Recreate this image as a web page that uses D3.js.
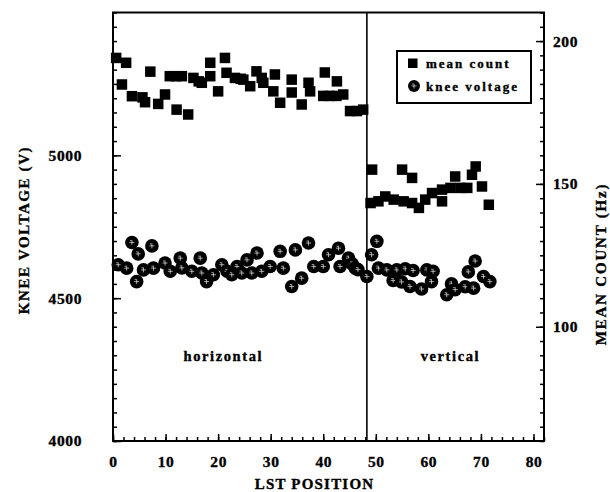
<!DOCTYPE html>
<html><head><meta charset="utf-8">
<script src="https://cdn.jsdelivr.net/npm/d3@7"></script>
<style>
body{margin:0;background:#fff;}
text{font-family:"Liberation Serif","Times New Roman",serif;font-weight:bold;fill:#000;stroke:#000;stroke-width:0.35px;}
</style></head>
<body><svg id="chart" width="610" height="492"></svg>
<script>
// mean count (Hz), right axis: [LST position, value]
const countHorizontal = [
 [0.6,194.1],[1.7,184.8],[2.5,192.4],[3.6,180.7],[5.6,180.3],[6.1,178.6],[7.1,189.3],[8.6,178.0],
 [9.9,181.3],[10.8,187.7],[12.0,187.7],[12.1,176.0],[13.1,187.7],[14.3,174.3],[15.3,187.1],[16.3,185.9],
 [16.9,185.4],[18.5,187.7],[18.5,192.4],[20.0,182.4],[21.3,194.1],[21.6,188.9],[23.2,187.1],[24.3,186.8],
 [24.8,186.5],[26.1,184.2],[27.3,189.4],[28.3,187.1],[28.6,185.4],[30.8,188.3],[30.5,182.4],[31.8,178.4],
 [34.0,186.5],[34.0,182.0],[35.9,177.8],[37.2,185.4],[37.5,182.4],[40.3,189.0],[40.0,180.8],[41.2,180.8],
 [42.6,185.9],[42.5,180.8],[43.8,181.3],[45.1,175.5],[46.4,175.5],[47.6,176.0]
];
const countVertical = [
 [49.0,143.3],[49.3,155.0],[50.5,143.9],[51.8,145.6],[53.4,144.5],[55.0,155.0],[55.3,143.9],[56.9,152.1],
 [56.9,143.3],[58.2,141.6],[59.4,144.5],[60.7,146.8],[62.6,148.0],[62.6,143.9],[64.2,148.6],[65.1,152.6],
 [66.1,148.6],[67.4,148.6],[68.3,153.2],[69.0,156.1],[70.2,149.1],[71.5,142.7]
];
// knee voltage (V), left axis
const voltHorizontal = [
 [1.0,4617],[2.6,4605],[3.6,4695],[4.8,4655],[4.5,4558],[5.8,4599],[7.4,4683],[7.7,4605],[9.9,4623],
 [10.9,4594],[12.8,4640],[13.1,4606],[15.0,4594],[16.6,4640],[16.9,4588],[17.8,4558],[19.1,4582],
 [20.7,4617],[21.7,4594],[22.6,4582],[23.6,4611],[24.5,4588],[25.5,4634],[26.4,4588],[27.4,4658],
 [28.3,4594],[29.9,4611],[31.8,4664],[32.4,4605],[34.0,4541],[34.7,4669],[35.9,4570],[37.2,4693],
 [38.2,4611],[40.0,4611],[41.0,4652],[42.9,4675],[43.2,4611],[44.8,4640],[45.5,4620],[46.1,4605],
 [46.6,4600],[48.3,4576]
];
const voltVertical = [
 [50.2,4699],[49.2,4652],[50.5,4605],[52.1,4599],[54.0,4599],[55.6,4603],[57.1,4597],[53.3,4562],
 [54.9,4557],[56.5,4541],[58.7,4532],[59.7,4599],[60.9,4594],[60.6,4558],[64.4,4550],[63.5,4512],
 [65.1,4530],[67.0,4540],[68.6,4535],[67.6,4592],[68.9,4630],[70.5,4576],[71.7,4558]
];
const xMajorTicks = [0,10,20,30,40,50,60,70,80];
const voltMajorTicks = [4000,4500,5000];
const countMajorTicks = [100,150,200];
const dividerPosition = 48.3;
const regionLabels = [["horizontal",21],["vertical",64.2]];
const legendItems = ["mean count","knee voltage"];

const svg = d3.select("#chart");
const L=113, R=544, T=12.5, B=441;
const x = d3.scaleLinear().domain([0,82]).range([L,R]);
const yV = d3.scaleLinear().domain([4000,5500]).range([B,T]);
const yC = d3.scaleLinear().domain([60,210]).range([B,T]);

function styleAxis(g){ g.select(".domain").remove(); g.selectAll("line").attr("stroke","#000").attr("stroke-width",1.5);
  g.selectAll("text").attr("font-size",15.5).attr("fill","#000").style("letter-spacing","0.6px"); }

// bottom axis
svg.append("g").attr("transform",`translate(0,${B})`)
  .call(d3.axisBottom(x).tickValues(d3.range(0,83,2)).tickSize(-4).tickFormat(""))
  .call(styleAxis);
svg.append("g").attr("transform",`translate(0,${B})`)
  .call(d3.axisBottom(x).tickValues(xMajorTicks).tickSize(-7).tickPadding(15).tickFormat(d3.format("d")))
  .call(styleAxis);
// left axis
svg.append("g").attr("transform",`translate(${L},0)`)
  .call(d3.axisLeft(yV).tickValues(d3.range(4000,5501,50)).tickSize(-4).tickFormat(""))
  .call(styleAxis);
svg.append("g").attr("transform",`translate(${L},0)`)
  .call(d3.axisLeft(yV).tickValues(voltMajorTicks).tickSize(-8).tickPadding(31).tickFormat(d3.format("d")))
  .call(styleAxis);
// right axis
svg.append("g").attr("transform",`translate(${R},0)`)
  .call(d3.axisRight(yC).tickValues(d3.range(60,211,5)).tickSize(-4).tickFormat(""))
  .call(styleAxis);
svg.append("g").attr("transform",`translate(${R},0)`)
  .call(d3.axisRight(yC).tickValues(countMajorTicks).tickSize(-8).tickPadding(9).tickFormat(d3.format("d")))
  .call(styleAxis);

// frame
svg.append("rect").attr("x",L).attr("y",T).attr("width",R-L).attr("height",B-T)
  .attr("fill","none").attr("stroke","#000").attr("stroke-width",2);
// divider
svg.append("line").attr("x1",x(dividerPosition)).attr("x2",x(dividerPosition)).attr("y1",T).attr("y2",B)
  .attr("stroke","#000").attr("stroke-width",1.6);

// markers
function drawCircle(g,cx,cy,r){
  g.append("circle").attr("cx",cx).attr("cy",cy).attr("r",r).attr("fill","#000");
  g.append("path").attr("d",`M${cx-2.5},${cy}h5M${cx},${cy-2.5}v5M${cx-2},${cy-2}h1.5`)
   .attr("stroke","#fff").attr("stroke-width",0.8).attr("fill","none").attr("opacity",0.8);
}
const sq = 10.5;
const gSq = svg.append("g");
gSq.selectAll("rect").data(countHorizontal.concat(countVertical)).join("rect")
  .attr("x",d=>x(d[0])-sq/2).attr("y",d=>yC(d[1])-sq/2).attr("width",sq).attr("height",sq).attr("fill","#000");
const gC = svg.append("g");
voltHorizontal.concat(voltVertical).forEach(d=>drawCircle(gC,x(d[0]),yV(d[1]),6.8));

// region labels
svg.selectAll("text.region").data(regionLabels).join("text").attr("class","region")
  .attr("x",d=>x(d[1])).attr("y",361).attr("text-anchor","middle").attr("font-size",14.5)
  .style("letter-spacing","1.6px").text(d=>d[0]);

// legend
const lg = svg.append("g");
lg.append("rect").attr("x",397).attr("y",51).attr("width",134).attr("height",52)
  .attr("fill","#fff").attr("stroke","#000").attr("stroke-width",2);
lg.append("rect").attr("x",408).attr("y",58.5).attr("width",9.5).attr("height",9.5).attr("fill","#000");
drawCircle(lg,414,86,6);
lg.selectAll("text.lg").data(legendItems).join("text").attr("class","lg")
  .attr("x",426).attr("y",(d,i)=>68+i*23).attr("font-size",13).style("letter-spacing","2px").text(d=>d);

// axis titles
svg.append("text").attr("x",(L+R)/2 - 14).attr("y",489).attr("text-anchor","middle")
  .attr("font-size",15).style("letter-spacing","1.2px").text("LST POSITION");
svg.append("text").attr("transform","translate(29,230) rotate(-90)").attr("text-anchor","middle")
  .attr("font-size",15).style("letter-spacing","1.6px").text("KNEE VOLTAGE (V)");
svg.append("text").attr("transform","translate(606,264) rotate(-90)").attr("text-anchor","middle")
  .attr("font-size",15).style("letter-spacing","1.8px").text("MEAN COUNT (Hz)");
</script></body></html>
